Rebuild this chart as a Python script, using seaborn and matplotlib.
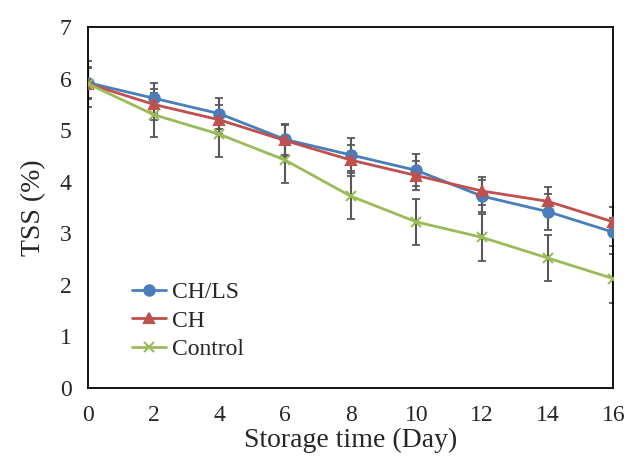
import numpy as np
import pandas as pd
import matplotlib
matplotlib.use("Agg")
import matplotlib.pyplot as plt
import seaborn as sns

# datos
days = [0, 2, 4, 6, 8, 10, 12, 14, 16]
chls = [5.92, 5.62, 5.32, 4.82, 4.52, 4.22, 3.72, 3.42, 3.02]
ch = [5.90, 5.50, 5.20, 4.80, 4.42, 4.12, 3.82, 3.62, 3.22]
control = [5.90, 5.30, 4.92, 4.42, 3.72, 3.22, 2.92, 2.52, 2.12]
chls_err = [0.30, 0.30, 0.30, 0.30, 0.32, 0.31, 0.31, 0.35, 0.27]
ch_err = [0.30, 0.30, 0.28, 0.30, 0.30, 0.28, 0.28, 0.28, 0.28]
control_err = [0.45, 0.43, 0.45, 0.45, 0.45, 0.44, 0.45, 0.45, 0.47]
series = ["CH/LS", "CH", "Control"]
colors = ["#4A7EBB", "#C0504D", "#9BBB59"]
markers = ["o", "^", "x"]

df = pd.DataFrame({
    "day": days * 3,
    "tss": chls + ch + control,
    "err": chls_err + ch_err + control_err,
    "grupo": sum([[s] * len(days) for s in series], []),
})

sns.set_style("white")
plt.rcParams["font.family"] = ["Liberation Serif", "DejaVu Serif"]

fig = plt.figure(figsize=(6.29, 4.59), dpi=100)
ax = fig.add_axes([0.140, 0.155, 0.835, 0.786])

# barras de error primero (gris oscuro)
for s in series:
    d = df[df["grupo"] == s]
    ax.errorbar(d["day"], d["tss"], yerr=d["err"], fmt="none",
                ecolor="#595959", elinewidth=1.5, capsize=3, capthick=1.3, zorder=1)

# una linea por serie (marcadores rellenos y de linea no se pueden mezclar en sns)
for s, c, m in zip(series, colors, markers):
    d = df[df["grupo"] == s]
    sns.lineplot(data=d, x="day", y="tss", color=c, marker=m, label=s,
                 linewidth=2, markersize=7.5, markeredgewidth=1.5,
                 markeredgecolor=c, ax=ax, zorder=3)

ax.set_xlim(0, 16)
ax.set_ylim(0, 7)
ax.set_xticks(range(0, 17, 2))
ax.set_yticks(range(0, 8))
ax.tick_params(axis="x", direction="in", length=5, width=1, color="black",
               labelsize=17, pad=12)
ax.tick_params(axis="y", length=0, labelsize=17, pad=12)
for sp in ax.spines.values():
    sp.set_color("black")
    sp.set_linewidth(1.3)
    sp.set_visible(True)

ax.set_xlabel("Storage time (Day)", fontsize=20, labelpad=2)
ax.set_ylabel("TSS (%)", fontsize=20, labelpad=10)

leg = ax.legend(loc="lower left", bbox_to_anchor=(0.065, 0.05), frameon=False,
                fontsize=17, handlelength=1.45, handletextpad=0.25,
                labelspacing=0.3, borderaxespad=0)

fig.savefig("out.png", dpi=100)
